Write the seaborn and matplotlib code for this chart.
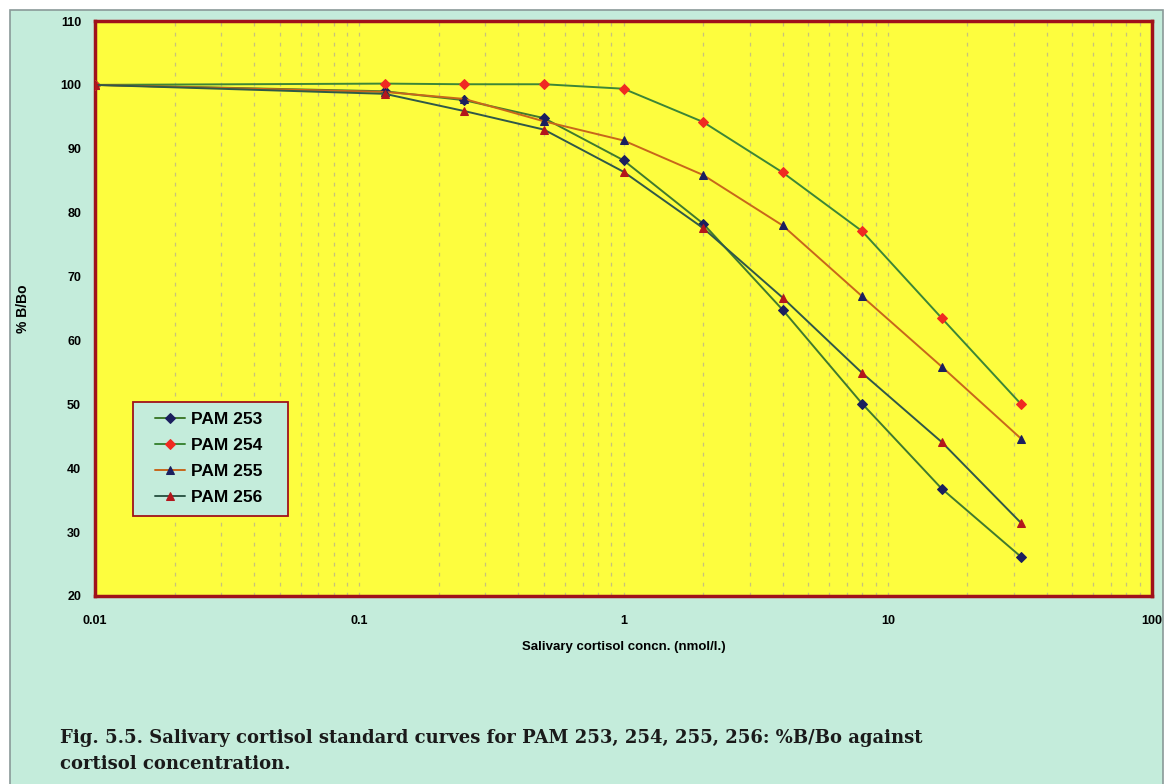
# Salivary cortisol standard curves

import matplotlib
matplotlib.use("Agg")
import matplotlib.pyplot as plt
import seaborn as sns
from matplotlib.patches import Rectangle
from matplotlib.ticker import FixedLocator, LogLocator, NullFormatter

# Data
conc = [0.01, 0.125, 0.25, 0.5, 1, 2, 4, 8, 16, 32]
pam253 = [100, 99.0, 97.6, 94.8, 88.2, 78.3, 64.8, 50.1, 36.8, 26.1]
pam254 = [100, 100.2, 100.1, 100.1, 99.4, 94.2, 86.3, 77.1, 63.5, 50.0]
pam255 = [100, 98.9, 97.8, 94.3, 91.3, 85.9, 78.0, 66.9, 55.9, 44.6]
pam256 = [100, 98.6, 95.9, 93.0, 86.4, 77.6, 66.7, 54.9, 44.1, 31.4]
names = ["PAM 253", "PAM 254", "PAM 255", "PAM 256"]
xticks = [0.01, 0.1, 1, 10, 100]
xtick_labels = ["0.01", "0.1", "1", "10", "100"]
yticks = [20, 30, 40, 50, 60, 70, 80, 90, 100, 110]

mint = "#c4ecdb"
yellow = "#fdfd3e"
border = "#a0121a"

sns.set_style("white")
plt.rcParams["font.family"] = ["Liberation Sans", "DejaVu Sans"]
plt.rcParams["text.color"] = "black"
plt.rcParams["axes.labelcolor"] = "black"
plt.rcParams["xtick.color"] = "black"
plt.rcParams["ytick.color"] = "black"

fig = plt.figure(figsize=(11.75, 7.84), dpi=100)
fig.patch.set_facecolor("white")
fig.patches.append(Rectangle((10 / 1175, -0.05), 1153 / 1175, 1.05 - 10 / 784,
                             transform=fig.transFigure, facecolor=mint,
                             edgecolor="#8a9a98", linewidth=1.2, zorder=-10))

ax = fig.add_axes([95 / 1175, 1 - 596 / 784, 1057 / 1175, 575 / 784])
ax.set_facecolor(yellow)

styles = [
    ("#3f7a2e", "D", "#1b1f5e"),
    ("#3c8636", "D", "#f02a22"),
    ("#c8661a", "^", "#1b1f5e"),
    ("#2f5848", "^", "#b3161c"),
]
series = [pam253, pam254, pam255, pam256]
for vals, name, (lc, mk, mc) in zip(series, names, styles):
    sns.lineplot(x=conc, y=vals, ax=ax, color=lc, linewidth=1.4, marker=mk,
                 markersize=5.5, markerfacecolor=mc, markeredgecolor=mc,
                 label=name, zorder=3)

ax.set_xscale("log")
ax.set_xlim(0.01, 100)
ax.set_ylim(20, 110)
ax.xaxis.set_major_locator(FixedLocator(xticks))
ax.set_xticklabels(xtick_labels)
ax.xaxis.set_minor_locator(LogLocator(base=10, subs=range(2, 10)))
ax.xaxis.set_minor_formatter(NullFormatter())
ax.set_yticks(yticks)
ax.tick_params(axis="both", which="both", length=0, labelsize=9)
ax.tick_params(axis="x", pad=14)
ax.tick_params(axis="y", pad=10)
for lab in ax.get_xticklabels() + ax.get_yticklabels():
    lab.set_fontweight("bold")

ax.grid(True, axis="x", which="both", color="#c9c27a", linestyle=(0, (3, 5)),
        linewidth=0.9)
ax.grid(False, axis="y")

for sp in ax.spines.values():
    sp.set_color(border)
    sp.set_linewidth(2.5)
    sp.set_visible(True)

ax.set_xlabel("Salivary cortisol concn. (nmol/l.)", fontsize=9.5,
              fontweight="bold", labelpad=10)
ax.set_ylabel("% B/Bo", fontsize=10, fontweight="bold", labelpad=22)

# legend box drawn separately so it can be wider than the entries
ax.add_patch(Rectangle((38 / 1057, 80 / 575), 155 / 1057, 114 / 575,
                       transform=ax.transAxes, facecolor=mint,
                       edgecolor=border, linewidth=1.3, zorder=5))
leg = ax.legend(loc="upper left", bbox_to_anchor=(60 / 1057, 184 / 575),
                frameon=False, prop={"size": 12.5, "weight": "bold"},
                handlelength=1.75, borderpad=0, labelspacing=0.62,
                handletextpad=0.3, borderaxespad=0)
leg.set_zorder(6)

fig.text(60 / 1175, 1 - 738 / 784,
         "Fig. 5.5. Salivary cortisol standard curves for PAM 253, 254, 255, 256: %B/Bo against",
         fontsize=13, fontweight="bold", family=["DejaVu Serif"], va="center",
         color="#1a1a1a")
fig.text(60 / 1175, 1 - 764 / 784, "cortisol concentration.",
         fontsize=13, fontweight="bold", family=["DejaVu Serif"], va="center",
         color="#1a1a1a")

fig.savefig("out.png", dpi=100, facecolor=fig.get_facecolor())
